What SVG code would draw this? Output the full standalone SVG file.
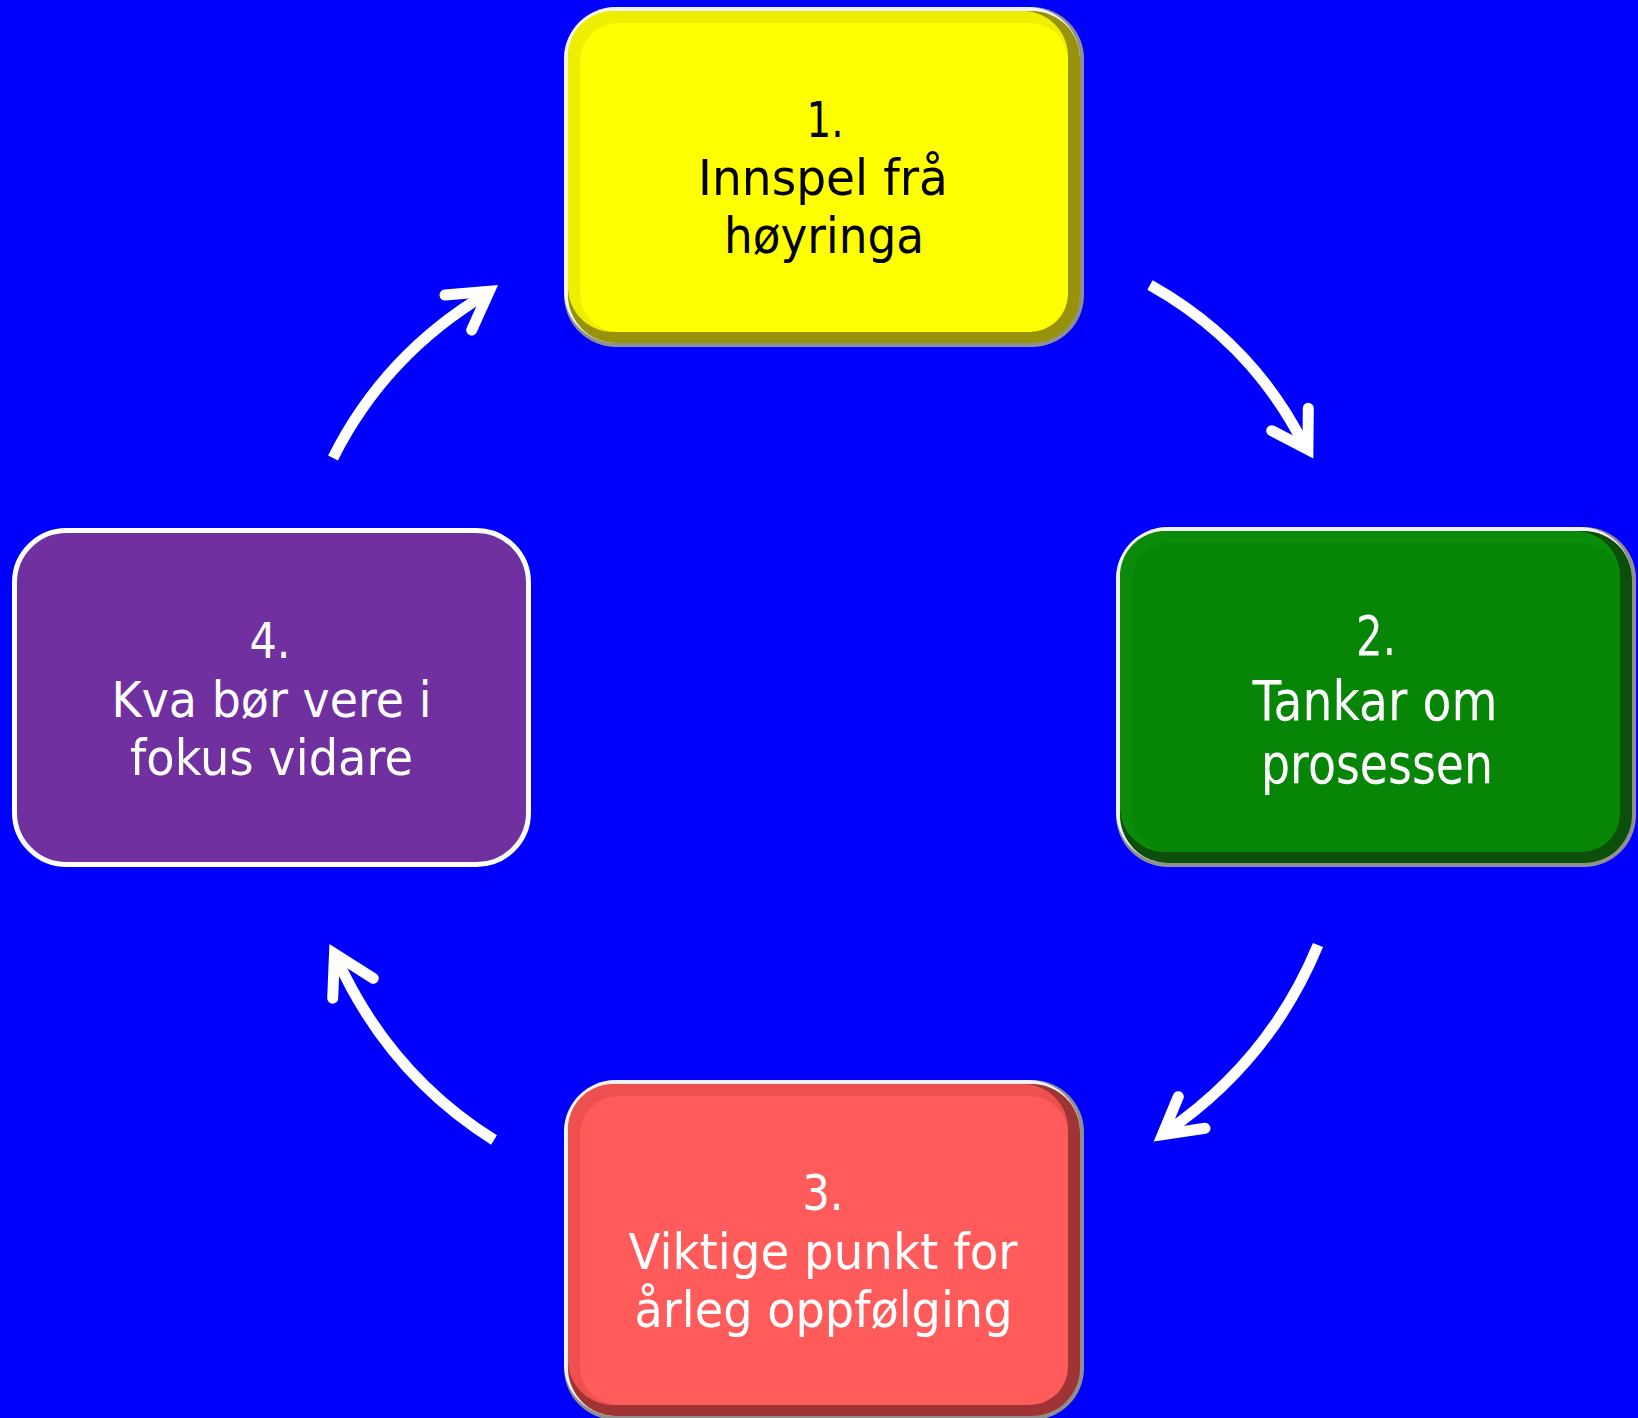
<svg xmlns="http://www.w3.org/2000/svg" width="1638" height="1418" viewBox="0 0 1638 1418">
<style>
.ringD{fill:#8f8f8f}
.ringL{fill:#f2f2f2}
.lbl{font-family:"DejaVu Sans","Liberation Sans",sans-serif;text-anchor:middle}
.l50{font-size:50px}
.l55{font-size:55px}
.blk{fill:#000000}
.wht{fill:#ffffff}
.shaft{fill:none;stroke:#ffffff;stroke-width:11;stroke-linecap:butt}
.head{fill:none;stroke:#ffffff;stroke-width:11;stroke-linecap:round;stroke-linejoin:miter;stroke-miterlimit:10}
</style>
<rect x="0" y="0" width="1638" height="1418" fill="#0000ff"/>

<g id="connectors">
  <path class="shaft" d="M1150,285 Q1252,342 1304,445"/>
  <path class="head" d="M1308.3,408.3 L1307.9,449.4 L1271.7,430.7"/>
  <path class="shaft" d="M1318,945 Q1270,1061 1166,1132"/>
  <path class="head" d="M1178.3,1096.7 L1162.5,1134.7 L1205,1128.3"/>
  <path class="shaft" d="M494,1140 Q389,1074 337,959"/>
  <path class="head" d="M332.7,998.3 L334.5,953.7 L373.3,978.3"/>
  <path class="shaft" d="M333,458 Q384.5,355 486,294"/>
  <path class="head" d="M445,295 L489.2,291.2 L471.7,330"/>
</g>

<g id="node1">
  <rect class="ringD" x="564" y="7" width="520" height="340" rx="52"/>
  <rect class="ringL" x="564" y="7" width="516" height="336" rx="52"/>
  <rect x="568" y="11" width="512" height="332" rx="48" fill="#96930a"/>
  <rect x="568" y="11" width="500" height="321" rx="45" fill="#eeee00"/>
  <rect x="580" y="23" width="488" height="309" rx="38" fill="#ffff00"/>
  <text class="lbl l50 blk" x="825" y="137" textLength="37" lengthAdjust="spacingAndGlyphs">1.</text>
  <text class="lbl l50 blk" x="823" y="195" textLength="250" lengthAdjust="spacingAndGlyphs">Innspel frå</text>
  <text class="lbl l50 blk" x="824" y="253" textLength="200" lengthAdjust="spacingAndGlyphs">høyringa</text>
</g>

<g id="node2">
  <rect class="ringD" x="1116" y="527" width="520" height="340" rx="52"/>
  <rect class="ringL" x="1116" y="527" width="516" height="336" rx="52"/>
  <rect x="1120" y="531" width="512" height="332" rx="48" fill="#0b4f0b"/>
  <rect x="1120" y="531" width="500" height="321" rx="45" fill="#0a8c0a"/>
  <rect x="1132" y="543" width="488" height="309" rx="38" fill="#068506"/>
  <text class="lbl l55 wht" x="1376" y="655" textLength="40" lengthAdjust="spacingAndGlyphs">2.</text>
  <text class="lbl l55 wht" x="1375" y="720" textLength="245" lengthAdjust="spacingAndGlyphs">Tankar om</text>
  <text class="lbl l55 wht" x="1377" y="783" textLength="232" lengthAdjust="spacingAndGlyphs">prosessen</text>
</g>

<g id="node3">
  <rect class="ringD" x="564" y="1080" width="520" height="340" rx="52"/>
  <rect class="ringL" x="564" y="1080" width="516" height="336" rx="52"/>
  <rect x="568" y="1084" width="512" height="332" rx="48" fill="#9e3434"/>
  <rect x="568" y="1084" width="500" height="321" rx="45" fill="#ee5050"/>
  <rect x="580" y="1096" width="488" height="309" rx="38" fill="#ff5b5b"/>
  <text class="lbl l50 wht" x="823" y="1210" textLength="41" lengthAdjust="spacingAndGlyphs">3.</text>
  <text class="lbl l50 wht" x="823" y="1269" textLength="389" lengthAdjust="spacingAndGlyphs">Viktige punkt for</text>
  <text class="lbl l50 wht" x="823.5" y="1327" textLength="378" lengthAdjust="spacingAndGlyphs">årleg oppfølging</text>
</g>

<g id="node4">
  <rect x="14.5" y="530.5" width="514" height="334" rx="52" fill="#7030a0" stroke="#ffffff" stroke-width="5"/>
  <text class="lbl l50 wht" x="270" y="658" textLength="41" lengthAdjust="spacingAndGlyphs">4.</text>
  <text class="lbl l50 wht" x="271.5" y="717" textLength="320" lengthAdjust="spacingAndGlyphs">Kva bør vere i</text>
  <text class="lbl l50 wht" x="271.5" y="775" textLength="283" lengthAdjust="spacingAndGlyphs">fokus vidare</text>
</g>
</svg>
